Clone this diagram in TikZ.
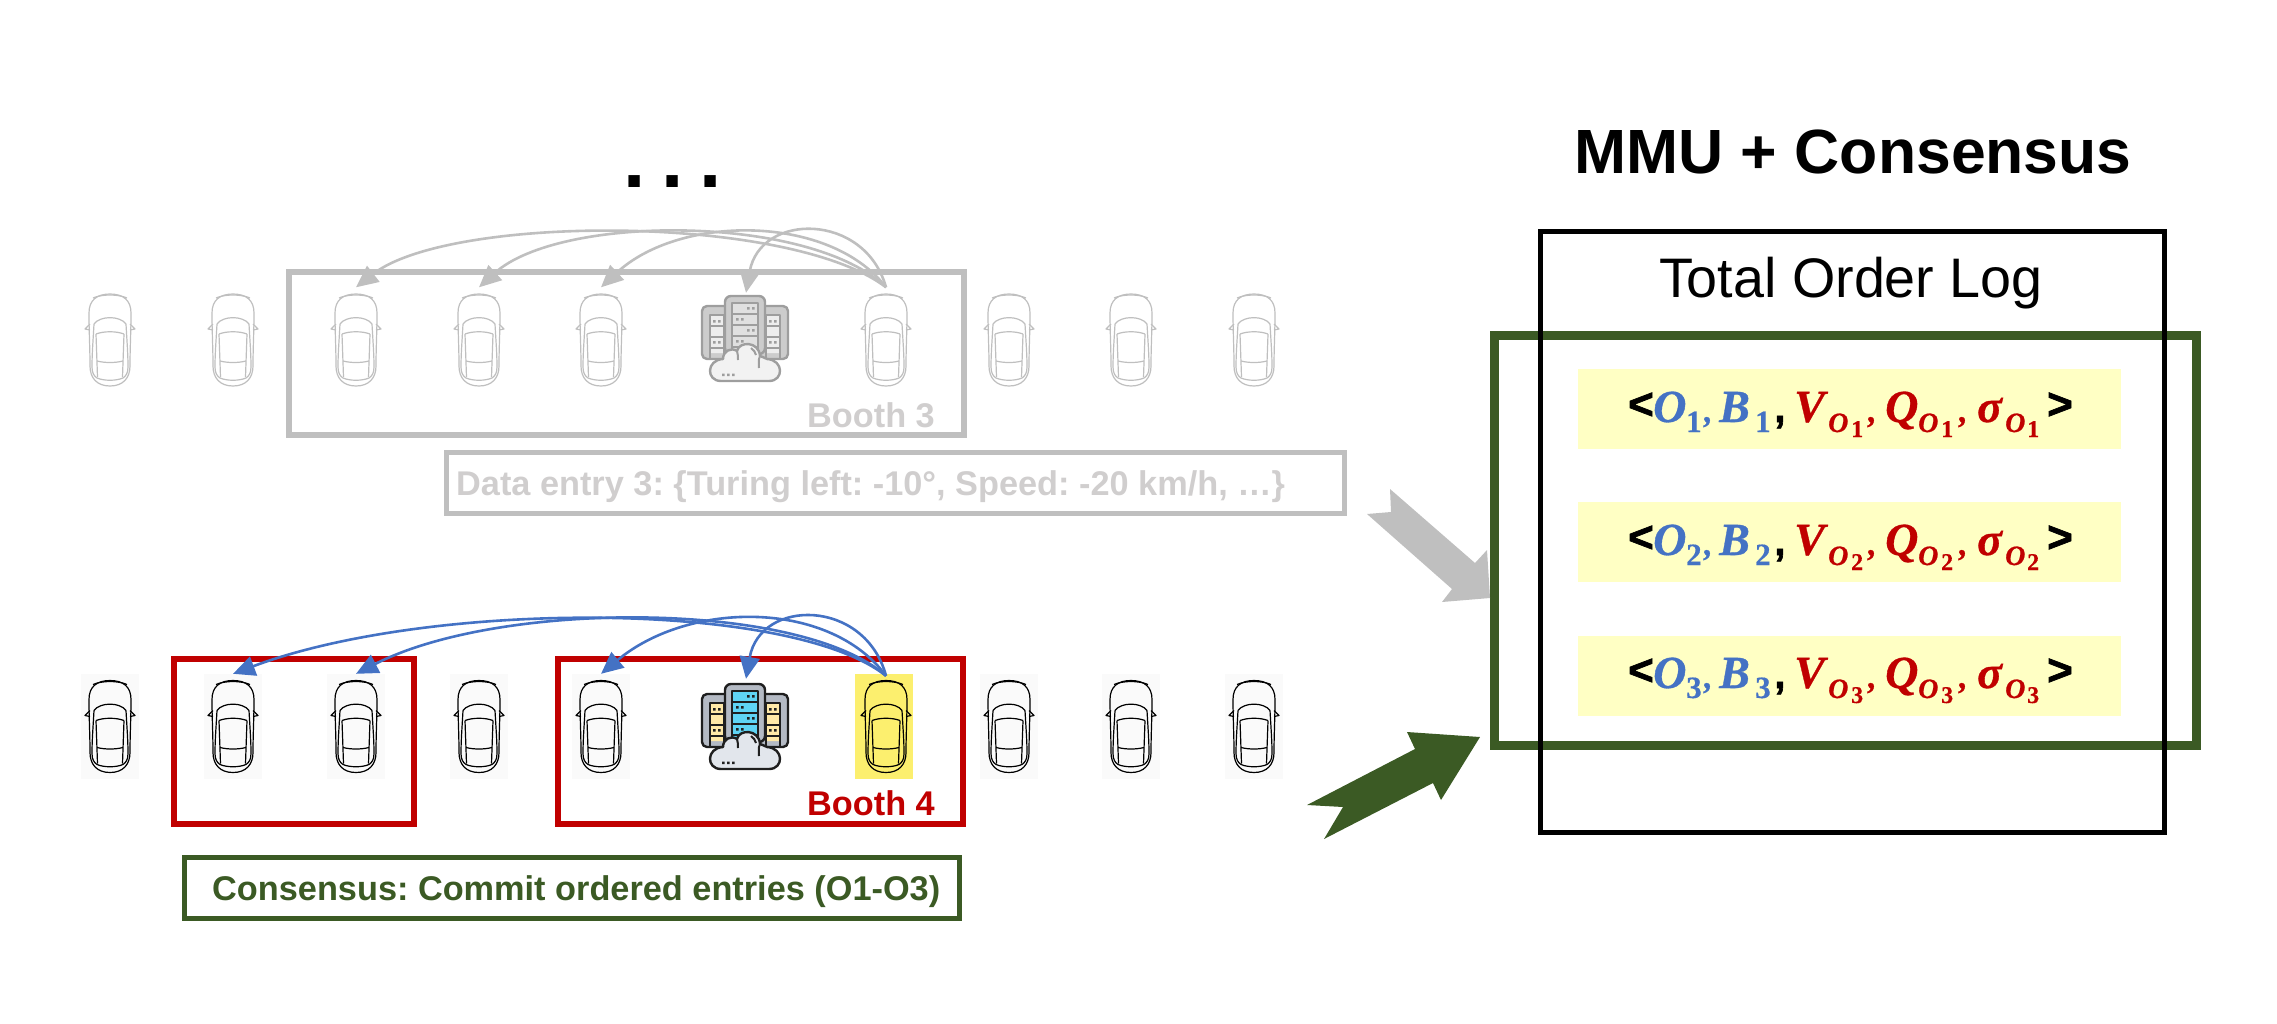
\documentclass[tikz,border=0pt]{standalone}
\usepackage{fontspec}
\setmainfont{Liberation Sans}
\newfontfamily\mathbi[BoldItalicFeatures={FakeBold=0.7},BoldFeatures={FakeBold=0.4}]{Liberation Serif}
\newfontfamily\hvy[BoldFeatures={FakeBold=1.6}]{Liberation Sans}
\usetikzlibrary{arrows.meta,calc}
\definecolor{blueC}{HTML}{4472C4}
\definecolor{redC}{HTML}{C00000}
\definecolor{greenC}{HTML}{3B5A24}
\definecolor{grayC}{HTML}{BFBFBF}
\definecolor{grayT}{HTML}{D0CECE}
\definecolor{logY}{HTML}{FFFFC4}
\definecolor{hiY}{HTML}{FCEF6E}
\definecolor{srvY}{HTML}{FFE9A8}
\definecolor{srvB}{HTML}{5FD4F4}
\definecolor{srvF}{HTML}{B4BAC4}
\definecolor{srvC}{HTML}{E2E6EC}
\tikzset{
  x=1pt,y=-1pt,
  carslot/.style={draw=none,minimum width=58pt,minimum height=105pt,inner sep=0pt},
  carbg/.style={carslot,fill=black!2},
  carhi/.style={carslot,fill=hiY},
  srv/.style={draw=none,minimum width=86pt,minimum height=90pt,inner sep=0pt},
  txt/.style={inner sep=0pt,font=\bfseries\fontsize{34.3}{34.3}\selectfont\frenchspacing},
  boothbox/.style={draw=#1,line width=6pt,fill=none,inner sep=0pt},
  link/.style={draw=#1,line width=2.6pt,-{Triangle[length=22pt,width=20pt,fill=#1]}},
  logrow/.style={fill=logY,minimum width=543pt,minimum height=80pt,inner sep=0pt},
  pics/carshape/.style={code={
    \begin{scope}[line width=1.2pt,line join=round]
    \draw (0,-46) .. controls (-13,-46) and (-21,-40) .. (-21,-27) .. controls (-21,-8) and (-20,8) .. (-20,26)
      .. controls (-20,38) and (-13,46) .. (0,46) .. controls (13,46) and (20,38) .. (20,26)
      .. controls (20,8) and (21,-8) .. (21,-27) .. controls (21,-40) and (13,-46) .. (0,-46) -- cycle;
    \draw (-16,-16) .. controls (-10,-24.5) and (10,-24.5) .. (16,-16);
    \draw (-16,-16) .. controls (-17,2) and (-18,14) .. (-18,27) .. controls (-18,33) and (-16,36) .. (-13,38)
      .. controls (-6,41) and (6,41) .. (13,38) .. controls (16,36) and (18,33) .. (18,27)
      .. controls (18,14) and (17,2) .. (16,-16);
    \draw (-14,-6) .. controls (-6,-9) and (6,-9) .. (14,-6);
    \draw (-14,-6) -- (-12.5,37) (14,-6) -- (12.5,37);
    \draw (-13,21) .. controls (-5,23) and (5,23) .. (13,21);
    \draw (-20,-16) -- (-25,-11) -- (-20,-10) (20,-16) -- (25,-11) -- (20,-10);
    \draw (-17,-42) .. controls (-8,-46) and (8,-46) .. (17,-42);
    \end{scope}
  }}
}
\newcommand{\serverdraw}[7]{%
 \begin{scope}[shift={(#1,#2)},line width=2.4pt,line join=round]
  \draw[#3,fill=#4,rounded corners=5pt] (-43,-32) rectangle (43,21);
  \fill[#5] (-35,-23) rectangle (-21,15) (21,-23) rectangle (35,15);
  \draw[#3] (-35,-23) rectangle (-21,21) (21,-23) rectangle (35,21);
  \draw[#3,line width=1.6pt] (-35,-12) -- (-21,-12) (-35,-1) -- (-21,-1) (-35,10) -- (-21,10)
            (35,-12) -- (21,-12) (35,-1) -- (21,-1) (35,10) -- (21,10);
  \draw[#3,fill=#4,rounded corners=6pt] (-20,-42) rectangle (20,16);
  \fill[#6] (-13,-35) rectangle (13,16);
  \draw[#3] (-13,-35) rectangle (13,16);
  \draw[#3,line width=1.6pt] (-13,-24) -- (13,-24) (-13,-13) -- (13,-13) (-13,-2) -- (13,-2) (-13,9) -- (13,9);
  \fill[#3] (2,-31) rectangle ++(2.5,2.5) (7,-31) rectangle ++(2.5,2.5)
            (-9,-20) rectangle ++(2.5,2.5) (-4,-20) rectangle ++(2.5,2.5)
            (2,-9) rectangle ++(2.5,2.5) (7,-9) rectangle ++(2.5,2.5)
            (-9,2) rectangle ++(2.5,2.5) (-4,2) rectangle ++(2.5,2.5)
            (-32,-18) rectangle ++(2.5,2.5) (-27,-18) rectangle ++(2.5,2.5)
            (-32,3) rectangle ++(2.5,2.5) (-27,3) rectangle ++(2.5,2.5)
            (24,-18) rectangle ++(2.5,2.5) (29,-18) rectangle ++(2.5,2.5)
            (24,3) rectangle ++(2.5,2.5) (29,3) rectangle ++(2.5,2.5);
  \draw[#3,fill=#7,line width=2.4pt] (-24,43) .. controls (-39,43) and (-39,22) .. (-22,21)
     .. controls (-22,13) and (-14,9) .. (-8,13) .. controls (-6,3) and (14,3) .. (15,18)
     .. controls (18,19) and (20,20) .. (22,21) .. controls (39,22) and (39,43) .. (24,43) -- cycle;
  \draw[#3,line width=2pt] (-8,13) .. controls (-7,16) and (-7,19) .. (-7,22)
     (6,10) .. controls (9,12) and (10,14) .. (11,17)
     (15,18) .. controls (13,22) and (14,26) .. (14,30);
  \fill[#3] (-23,35.5) rectangle ++(2.5,2.5) (-18,35.5) rectangle ++(2.5,2.5) (-13,35.5) rectangle ++(2.5,2.5);
 \end{scope}}
\newcommand{\G}[4]{\rlap{\hspace*{#1pt}\raisebox{#2pt}{\fontsize{#3}{#3}\selectfont#4}}}
\newcommand{\bi}{\mathbi\bfseries\itshape}
\newcommand{\bu}{\mathbi\bfseries\upshape}
\newcommand{\hb}{\hvy\bfseries}
\newcommand{\logtext}[1]{\hbox to 443pt{%
 \G{0}{3}{44}{\hb\color{black}<}%
 \G{25}{0}{46}{\bi\color{blueC}O}%
 \G{58}{-10}{31}{\bu\color{blueC}#1}%
 \G{76}{0}{34}{\bi\color{blueC},}%
 \G{91}{0}{46}{\bi\color{blueC}B}%
 \G{127}{-10}{31}{\bu\color{blueC}#1}%
 \G{146}{0}{41}{\hb\color{black},}%
 \G{166}{0}{46}{\bi\color{redC}V}%
 \G{200}{-10}{28}{\bi\color{redC}O}%
 \G{223}{-15}{24}{\bu\color{redC}#1}%
 \G{240}{0}{34}{\bi\color{redC},}%
 \G{257}{0}{46}{\bi\color{redC}Q}%
 \G{290}{-10}{28}{\bi\color{redC}O}%
 \G{313}{-15}{24}{\bu\color{redC}#1}%
 \G{331}{0}{34}{\bi\color{redC},}%
 \G{349}{0}{46}{\bi\color{redC}σ}%
 \G{377}{-10}{28}{\bi\color{redC}O}%
 \G{399}{-15}{24}{\bu\color{redC}#1}%
 \G{419}{3}{44}{\hb\color{black}>}%
 \hss}}
\begin{document}
\begin{tikzpicture}
\useasboundingbox (0,0) rectangle (2277,1023);
% ---------- row 1 (grey)
\node[carslot] (a1) at (110,340) {};
\node[carslot] (a2) at (233,340) {};
\node[carslot] (a3) at (356,340) {};
\node[carslot] (a4) at (479,340) {};
\node[carslot] (a5) at (601,340) {};
\node[carslot] (a7) at (886,340) {};
\node[carslot] (a8) at (1009,340) {};
\node[carslot] (a9) at (1131,340) {};
\node[carslot] (a10) at (1254,340) {};
\foreach \n in {a1,a2,a3,a4,a5,a7,a8,a9,a10} \pic[color=grayC] at (\n) {carshape};
\node[srv] (as) at (745,338) {};
\serverdraw{745}{338}{black!38}{black!20}{black!7}{black!12}{black!5}
\node[boothbox=grayC,minimum width=675pt,minimum height=163pt] (ab) at (626,353.5) {};
\node[txt,text=grayT,anchor=base east] (abl) at (935,427) {Booth 3};
\node[boothbox=grayC,minimum width=898pt,minimum height=61pt,line width=5pt] (ad) at (895.5,483) {};
\node[txt,text=grayT,anchor=base west] (adl) at (456,495) {Data entry 3: \{Turing left: -10°, Speed: -20 km/h, …\}};
\coordinate (as1) at ($(as.north)+(1,0)$);
\path[link=grayC] (a7.north) .. controls (790,214) and (450,214) .. (a3.north);
\path[link=grayC] (a7.north) .. controls (810,214) and (560,214) .. (a4.north);
\path[link=grayC] (a7.north) .. controls (830,214) and (680,214) .. (a5.north);
\path[link=grayC] (a7.north) .. controls (865,212) and (760,212) .. (as1);
% ---------- row 2
\node[carbg] (b1) at (110,726.5) {};
\node[carbg] (b2) at (233,726.5) {};
\node[carbg] (b3) at (356,726.5) {};
\node[carbg] (b4) at (479,726.5) {};
\node[carbg] (b5) at (601,726.5) {};
\node[carhi] (b7) at (884,726.5) {};
\node[carbg] (b8) at (1009,726.5) {};
\node[carbg] (b9) at (1131,726.5) {};
\node[carbg] (b10) at (1254,726.5) {};
\foreach \n in {b1,b2,b3,b4,b5,b8,b9,b10} \pic[color=black] at (\n) {carshape};
\pic[color=black] at ($(b7)+(2,0)$) {carshape};
\node[srv] (bs) at (745,726) {};
\serverdraw{745}{726}{black!88}{srvF}{srvY}{srvB}{srvC}
\node[boothbox=redC,minimum width=240pt,minimum height=165pt] (bb1) at (293.5,741) {};
\node[boothbox=redC,minimum width=405pt,minimum height=165pt] (bb2) at (760,741) {};
\node[txt,text=redC,anchor=base east] (bbl) at (935,815) {Booth 4};
\node[boothbox=greenC,minimum width=775pt,minimum height=61pt,line width=5pt] (bc) at (572,888) {};
\node[txt,text=greenC,anchor=base west] (bcl) at (212,900) {Consensus: Commit ordered entries (O1-O3)};
\coordinate (bs1) at ($(bs.north)+(1,-2)$);
\coordinate (b7s) at ($(b7.north)+(2,2)$);
\path[link=blueC] (b7s) .. controls (790,600) and (430,600) .. (b2.north);
\path[link=blueC] (b7s) .. controls (800,600) and (500,600) .. (b3.north);
\path[link=blueC] (b7s) .. controls (830,600) and (690,600) .. (b5.north);
\path[link=blueC] (b7s) .. controls (865,598) and (760,598) .. (bs1);
% ---------- dots
\node[inner sep=0pt,anchor=base,font=\bfseries\fontsize{80}{80}\selectfont] (dots) at (672.5,187) {.\hspace{15.5pt}.\hspace{15.5pt}.};
% ---------- right
\node[inner sep=0pt,font=\bfseries\fontsize{62.5}{62.5}\selectfont,anchor=base] (ttl) at (1853,173) {MMU + Consensus};
\node[logrow] (r1) at (1849.5,409) {};
\node[logrow] (r2) at (1849.5,542) {};
\node[logrow] (r3) at (1849.5,675.5) {};
\node[inner sep=0pt,anchor=base west] (t1) at (1628,422) {\logtext{1}};
\node[inner sep=0pt,anchor=base west] (t2) at (1628,555) {\logtext{2}};
\node[inner sep=0pt,anchor=base west] (t3) at (1628,688) {\logtext{3}};
\node[draw=greenC,line width=9pt,minimum width=702pt,minimum height=410pt,inner sep=0pt] (gbox) at (1845.5,540.5) {};
\node[draw=black,line width=5pt,minimum width=624pt,minimum height=601pt,inner sep=0pt] (kbox) at (1852.5,532) {};
\node[inner sep=0pt,font=\fontsize{55.7}{55.7}\selectfont,anchor=base] (tol) at (1851,297) {Total Order Log};
% big arrows
\fill[grayC] (1390,489) -- (1391,512) -- (1367,514) -- (1452,589) -- (1442,602) -- (1490,598) -- (1487,550) -- (1475,563) -- cycle;
\fill[greenC] (1307,805) -- (1343,807) -- (1324,839) -- (1433,783) -- (1441,800) -- (1480,737) -- (1407,732) -- (1415,749) -- cycle;
\end{tikzpicture}
\end{document}
